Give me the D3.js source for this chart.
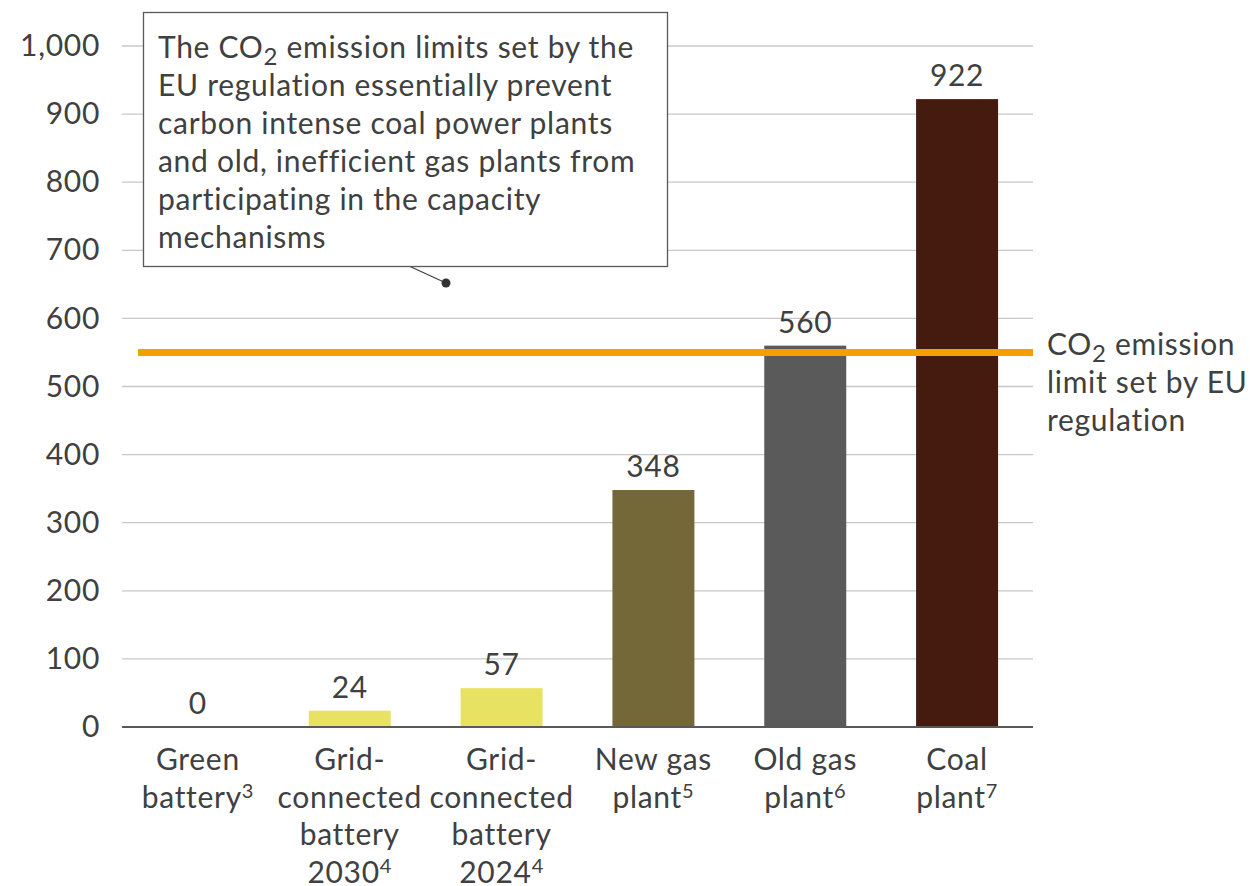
<!DOCTYPE html>
<html><head><meta charset="utf-8">
<script src="https://cdn.jsdelivr.net/npm/d3@7"></script>
<style>body{margin:0;background:#fff}svg{display:block}text{font-family:Lato,"Open Sans",sans-serif;letter-spacing:0.7px}</style>
</head><body><svg id="c" width="1250" height="886"></svg>
<script>
const categories = ["Green battery", "Grid-connected battery 2030", "Grid-connected battery 2024", "New gas plant", "Old gas plant", "Coal plant"];
const labelLines = [
  [["Green",""],["battery","3"]],
  [["Grid-",""],["connected",""],["battery",""],["2030","4"]],
  [["Grid-",""],["connected",""],["battery",""],["2024","4"]],
  [["New gas",""],["plant","5"]],
  [["Old gas",""],["plant","6"]],
  [["Coal",""],["plant","7"]]
];
const values = [0, 24, 57, 348, 560, 922];
const colors = ["#E8E262", "#E8E262", "#E8E262", "#746838", "#5A5A5A", "#461B0F"];
const yTicks = [0, 100, 200, 300, 400, 500, 600, 700, 800, 900, 1000];
const limitValue = 550;
const limitLabel = [["CO", "2", " emission"], ["limit set by EU"], ["regulation"]];
const noteLines = ["The CO|2| emission limits set by the", "EU regulation essentially prevent", "carbon intense coal power plants", "and old, inefficient gas plants from", "participating in the capacity", "mechanisms"];

(function () {
const svg = d3.select("#c");
const pLeft = 122, pRight = 1033, pTop = 46, pBottom = 727;
const FS = 30;
const x = d3.scaleBand().domain(categories).range([pLeft, pRight]).paddingInner(0.46).paddingOuter(0.23);
const y = d3.scaleLinear().domain([0, 1000]).range([pBottom, pTop]);
const textCol = "#404040";

svg.append("g").selectAll("line").data(yTicks.filter(d => d > 0)).join("line")
  .attr("x1", pLeft).attr("x2", pRight).attr("y1", d => y(d)).attr("y2", d => y(d))
  .attr("stroke", "#c8c8c8").attr("stroke-width", 1.3);

const yAxis = svg.append("g").attr("transform", `translate(${pLeft},0)`)
  .call(d3.axisLeft(y).tickValues(yTicks).tickFormat(d3.format(",")).tickSize(0).tickPadding(22));
yAxis.select(".domain").remove();
yAxis.selectAll("text").attr("font-size", FS).attr("fill", textCol).attr("font-family", "Lato");

svg.append("g").selectAll("rect").data(values).join("rect")
  .attr("x", (d, i) => x(categories[i])).attr("width", x.bandwidth())
  .attr("y", d => y(d)).attr("height", d => y(0) - y(d))
  .attr("fill", (d, i) => colors[i]);

svg.append("line").attr("x1", pLeft).attr("x2", pRight).attr("y1", y(0)).attr("y2", y(0))
  .attr("stroke", "#595959").attr("stroke-width", 2);

svg.append("g").selectAll("text").data(values).join("text")
  .attr("x", (d, i) => x(categories[i]) + x.bandwidth() / 2).attr("y", d => y(d) - 13)
  .attr("text-anchor", "middle").attr("font-size", FS).attr("fill", textCol).text(d => d);

const xl = svg.append("g");
labelLines.forEach((lines, i) => {
  const cx = x(categories[i]) + x.bandwidth() / 2;
  const t = xl.append("text").attr("text-anchor", "middle").attr("font-size", FS).attr("fill", textCol)
    .attr("x", cx).attr("y", 770);
  lines.forEach((ln, j) => {
    const ts = t.append("tspan").attr("x", cx).attr("dy", j === 0 ? 0 : 37.7);
    ts.append("tspan").text(ln[0]);
    if (ln[1]) {
      ts.append("tspan").attr("font-size", 20).attr("dy", -10).text(ln[1]);
      ts.append("tspan").attr("dy", 10).text("");
    }
  });
});

svg.append("line").attr("x1", 138).attr("x2", pRight).attr("y1", y(limitValue)).attr("y2", y(limitValue))
  .attr("stroke", "#F5A000").attr("stroke-width", 7);

const ll = svg.append("text").attr("font-size", FS).attr("fill", textCol).attr("x", 1047).attr("y", 355);
ll.append("tspan").attr("x", 1047).text(limitLabel[0][0]);
ll.append("tspan").attr("font-size", 24).attr("dy", 7).text(limitLabel[0][1]);
ll.append("tspan").attr("dy", -7).text(limitLabel[0][2]);
ll.append("tspan").attr("x", 1047).attr("dy", 38).text(limitLabel[1][0]);
ll.append("tspan").attr("x", 1047).attr("dy", 38).text(limitLabel[2][0]);

svg.append("line").attr("x1", 409).attr("y1", 266).attr("x2", 446).attr("y2", 283).attr("stroke", "#404040").attr("stroke-width", 1.3);
svg.append("circle").attr("cx", 446).attr("cy", 283).attr("r", 4.5).attr("fill", "#333");

svg.append("rect").attr("x", 143.5).attr("y", 12.5).attr("width", 524).attr("height", 254)
  .attr("fill", "#fff").attr("stroke", "#595959").attr("stroke-width", 1.3);
const nt = svg.append("text").attr("font-size", FS).attr("fill", textCol).attr("x", 158).attr("y", 58);
noteLines.forEach((ln, j) => {
  const parts = ln.split("|");
  const ts = nt.append("tspan").attr("x", 158).attr("dy", j === 0 ? 0 : 38);
  if (parts.length === 3) {
    ts.append("tspan").text(parts[0]);
    ts.append("tspan").attr("font-size", 24).attr("dy", 7).text(parts[1]);
    ts.append("tspan").attr("dy", -7).text(parts[2]);
  } else ts.text(ln);
});
})();
</script></body></html>
